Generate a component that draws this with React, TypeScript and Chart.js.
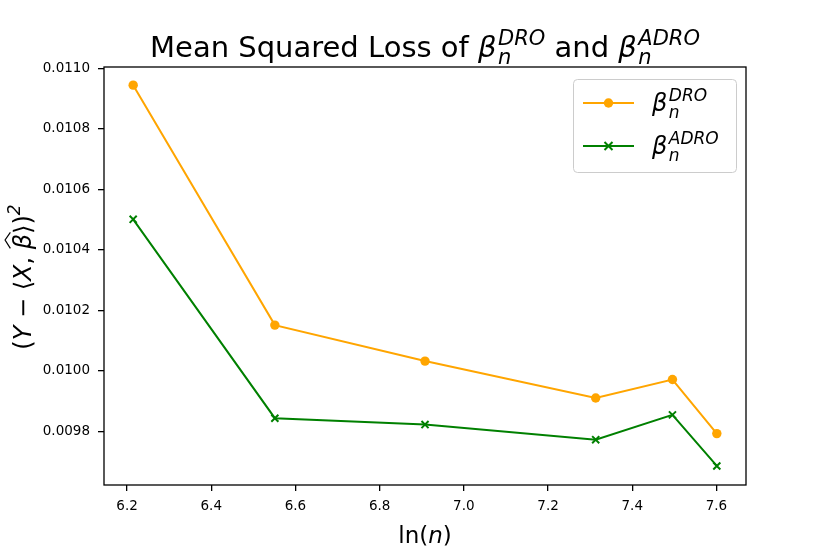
import React, { useEffect, useRef } from "react";
import { Chart, registerables } from "chart.js";

Chart.register(...registerables);

// x = ln(n) for n = 500, 700, 1000, 1500, 1800, 2000
const lnN = [6.2146, 6.5511, 6.9078, 7.3132, 7.4955, 7.6009];
const droLoss = [0.010945, 0.010151, 0.010032, 0.00991, 0.009971, 0.009792];
const adroLoss = [0.010501, 0.009843, 0.009822, 0.009772, 0.009854, 0.009685];
const xTicks = [6.2, 6.4, 6.6, 6.8, 7.0, 7.2, 7.4, 7.6];
const yTicks = [0.0098, 0.01, 0.0102, 0.0104, 0.0106, 0.0108, 0.011];

const FAMILY = '"DejaVu Sans", sans-serif';
const ORANGE = "#ffa500";
const GREEN = "#008000";

type Piece = {
  text?: string;
  size: number;
  italic?: boolean;
  sup?: string;
  sub?: string;
  supDy?: number;
  subDy?: number;
  hat?: boolean;
  gap?: number;
};

const font = (size: number, italic?: boolean) =>
  `${italic ? "italic " : ""}${size}px ${FAMILY}`;

function pieceWidth(ctx: CanvasRenderingContext2D, p: Piece) {
  if (p.sup !== undefined || p.sub !== undefined) {
    ctx.font = font(p.size, true);
    return (
      Math.max(ctx.measureText(p.sup || "").width, ctx.measureText(p.sub || "").width) +
      (p.gap || 0)
    );
  }
  ctx.font = font(p.size, p.italic);
  return ctx.measureText(p.text || "").width + (p.gap || 0);
}

// draws a line of "math" text: plain runs plus stacked super/subscripts
function drawRich(
  ctx: CanvasRenderingContext2D,
  pieces: Piece[],
  x: number,
  y: number,
  align: "center" | "left"
) {
  const widths = pieces.map((p) => pieceWidth(ctx, p));
  const total = widths.reduce((a, b) => a + b, 0);
  let cx = align === "center" ? x - total / 2 : x;
  ctx.textAlign = "left";
  ctx.textBaseline = "alphabetic";
  pieces.forEach((p, i) => {
    if (p.sup !== undefined || p.sub !== undefined) {
      ctx.font = font(p.size, true);
      if (p.sup) ctx.fillText(p.sup, cx, y + (p.supDy || 0));
      if (p.sub) ctx.fillText(p.sub, cx, y + (p.subDy || 0));
    } else {
      ctx.font = font(p.size, p.italic);
      ctx.fillText(p.text || "", cx, y);
      if (p.hat) {
        const w = widths[i];
        ctx.save();
        ctx.lineWidth = 1.2;
        ctx.beginPath();
        ctx.moveTo(cx + w * 0.05, y - p.size * 0.86);
        ctx.lineTo(cx + w * 0.6, y - p.size * 1.08);
        ctx.lineTo(cx + w * 1.1, y - p.size * 0.86);
        ctx.stroke();
        ctx.restore();
      }
    }
    cx += widths[i];
  });
}

const betaLabel = (sup: string, size: number, script: number, supDy: number, subDy: number): Piece[] => [
  { text: "β", size, italic: true, gap: 1.5 },
  { sup, sub: "n", size: script, supDy, subDy },
];

const titlePieces: Piece[] = [
  { text: "Mean Squared Loss of ", size: 29 },
  ...betaLabel("DRO", 29, 21, -12, 7),
  { text: " and ", size: 29 },
  ...betaLabel("ADRO", 29, 21, -12, 7),
];

const yLabelPieces: Piece[] = [
  { text: "(", size: 24 },
  { text: "Y", size: 24, italic: true },
  { text: " − ", size: 24 },
  { text: "⟨", size: 24 },
  { text: "X", size: 24, italic: true },
  { text: ", ", size: 24 },
  { text: "β", size: 24, italic: true, hat: true },
  { text: "⟩", size: 24 },
  { text: ")", size: 24 },
  { sup: "2", size: 17, supDy: -11 },
];

const xLabelPieces: Piece[] = [
  { text: "ln(", size: 23 },
  { text: "n", size: 23, italic: true },
  { text: ")", size: 23 },
];

const decorations = {
  id: "decorations",
  afterDatasetsDraw(chart: Chart) {
    const { ctx, chartArea } = chart;
    ctx.save();
    ctx.strokeStyle = "#000";
    ctx.lineWidth = 1.3;
    ctx.strokeRect(chartArea.left, chartArea.top, chartArea.right - chartArea.left, chartArea.bottom - chartArea.top);
    ctx.restore();
  },
  afterDraw(chart: Chart) {
    const { ctx } = chart;
    ctx.save();
    ctx.fillStyle = "#000";
    ctx.strokeStyle = "#000";

    drawRich(ctx, titlePieces, 425, 57, "center");
    drawRich(ctx, xLabelPieces, 425, 543, "center");

    ctx.save();
    ctx.translate(31, 277);
    ctx.rotate(-Math.PI / 2);
    drawRich(ctx, yLabelPieces, 0, 0, "center");
    ctx.restore();

    // legend
    ctx.beginPath();
    ctx.roundRect(573.5, 79.5, 163, 93, 4);
    ctx.fillStyle = "rgba(255,255,255,0.8)";
    ctx.fill();
    ctx.strokeStyle = "#cccccc";
    ctx.lineWidth = 1;
    ctx.stroke();

    const rows = [
      { y: 103, color: ORANGE, marker: "circle", sup: "DRO" },
      { y: 146, color: GREEN, marker: "x", sup: "ADRO" },
    ];
    rows.forEach((r) => {
      ctx.strokeStyle = r.color;
      ctx.fillStyle = r.color;
      ctx.lineWidth = 2;
      ctx.beginPath();
      ctx.moveTo(583, r.y);
      ctx.lineTo(634, r.y);
      ctx.stroke();
      if (r.marker === "circle") {
        ctx.beginPath();
        ctx.arc(608.5, r.y, 4.7, 0, Math.PI * 2);
        ctx.fill();
      } else {
        ctx.beginPath();
        ctx.moveTo(604.5, r.y - 4);
        ctx.lineTo(612.5, r.y + 4);
        ctx.moveTo(604.5, r.y + 4);
        ctx.lineTo(612.5, r.y - 4);
        ctx.stroke();
      }
      ctx.fillStyle = "#000";
      drawRich(ctx, betaLabel(r.sup, 24, 17, -10, 7), 652, r.y + 8, "left");
    });
    ctx.restore();
  },
};

const App: React.FC = () => {
  const canvasRef = useRef<HTMLCanvasElement>(null);
  const chartRef = useRef<Chart<"line"> | null>(null);

  useEffect(() => {
    document.body.style.margin = "0";
    if (!canvasRef.current) return;
    const ctx = canvasRef.current.getContext("2d");
    if (!ctx) return;

    const tickFont = { family: FAMILY, size: 13.5 };

    chartRef.current = new Chart(ctx, {
      type: "line",
      data: {
        datasets: [
          {
            label: "DRO",
            data: lnN.map((x, i) => ({ x, y: droLoss[i] })),
            borderColor: ORANGE,
            backgroundColor: ORANGE,
            borderWidth: 2,
            pointStyle: "circle",
            pointRadius: 4.7,
            pointBorderWidth: 0,
            tension: 0,
          },
          {
            label: "ADRO",
            data: lnN.map((x, i) => ({ x, y: adroLoss[i] })),
            borderColor: GREEN,
            backgroundColor: GREEN,
            borderWidth: 2,
            pointStyle: "crossRot",
            pointRadius: 5,
            pointBorderWidth: 2,
            tension: 0,
          },
        ],
      },
      options: {
        responsive: false,
        animation: false,
        devicePixelRatio: window.devicePixelRatio || 1,
        layout: { padding: { top: 67, right: 84, bottom: 0, left: 0 } },
        scales: {
          x: {
            type: "linear",
            min: 6.1453,
            max: 7.6702,
            afterBuildTicks: (scale) => {
              scale.ticks = xTicks.map((value) => ({ value }));
            },
            afterFit: (scale) => {
              scale.height = 69;
            },
            border: { display: false },
            grid: { display: true, drawOnChartArea: false, drawTicks: true, tickLength: 6, color: "#000", lineWidth: 1.3 },
            ticks: {
              color: "#000",
              font: tickFont,
              padding: 7,
              maxRotation: 0,
              autoSkip: false,
              callback: (v) => Number(v).toFixed(1),
            },
          },
          y: {
            type: "linear",
            min: 0.009622,
            max: 0.011005,
            afterBuildTicks: (scale) => {
              scale.ticks = yTicks.map((value) => ({ value }));
            },
            afterFit: (scale) => {
              scale.width = 104;
            },
            border: { display: false },
            grid: { display: true, drawOnChartArea: false, drawTicks: true, tickLength: 6, color: "#000", lineWidth: 1.3 },
            ticks: {
              color: "#000",
              font: tickFont,
              padding: 8,
              autoSkip: false,
              callback: (v) => Number(v).toFixed(4),
            },
          },
        },
        plugins: {
          legend: { display: false },
          title: { display: false },
          tooltip: { enabled: false },
        },
      },
      plugins: [decorations],
    });

    return () => {
      if (chartRef.current) {
        chartRef.current.destroy();
        chartRef.current = null;
      }
    };
  }, []);

  return <canvas ref={canvasRef} width={830} height={554} style={{ display: "block" }} />;
};

export default App;
